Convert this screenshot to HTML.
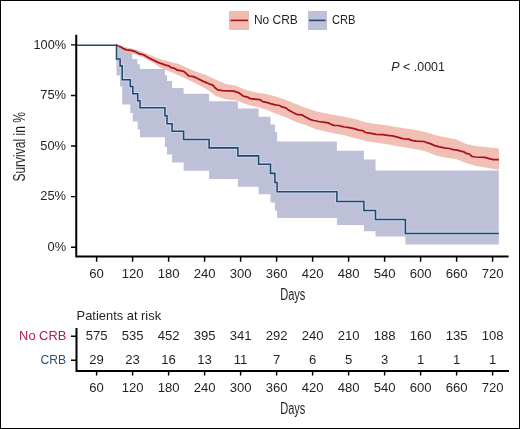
<!DOCTYPE html>
<html><head><meta charset="utf-8"><title>KM</title>
<style>
html,body{margin:0;padding:0;background:#fff;}
body{width:520px;height:429px;overflow:hidden;font-family:"Liberation Sans", sans-serif;}
svg{display:block;will-change:transform;}
</style></head><body>
<svg width="520" height="429" viewBox="0 0 520 429"><rect x="0" y="0" width="520" height="429" fill="#fff"/><polygon points="116.50,44.85 116.50,44.85 116.50,46.00 120.10,46.00 120.10,46.50 122.20,46.50 122.20,50.00 130.30,50.00 130.30,53.50 132.30,53.50 132.30,59.10 137.30,59.10 137.30,64.20 139.90,64.20 139.90,69.00 164.90,69.00 164.90,75.20 167.00,75.20 167.00,81.00 172.10,81.00 172.10,88.00 183.60,88.00 183.60,93.80 209.10,93.80 209.10,101.30 237.90,101.30 237.90,108.50 258.60,108.50 258.60,116.70 270.50,116.70 270.50,124.40 274.90,124.40 274.90,132.10 277.10,132.10 277.10,141.50 336.90,141.50 336.90,150.80 363.90,150.80 363.90,159.60 375.50,159.60 375.50,170.60 405.40,170.60 405.40,170.60 498.80,170.60 498.80,244.40 405.40,244.40 405.40,236.40 375.50,236.40 375.50,231.20 363.90,231.20 363.90,224.90 336.90,224.90 336.90,218.00 277.10,218.00 277.10,210.40 274.90,210.40 274.90,202.60 270.50,202.60 270.50,194.30 258.60,194.30 258.60,186.70 237.90,186.70 237.90,178.90 209.10,178.90 209.10,170.70 183.60,170.70 183.60,162.50 172.10,162.50 172.10,154.50 167.00,154.50 167.00,147.00 164.90,147.00 164.90,137.30 140.00,137.30 140.00,129.60 137.70,129.60 137.70,121.40 132.80,121.40 132.80,112.90 130.30,112.90 130.30,104.50 122.20,104.50 122.20,86.40 120.10,86.40 120.10,75.50 116.50,75.50 116.50,44.85 116.50,44.85" fill="#bec0d8"/><polygon points="116.00,44.60 126.00,47.20 136.00,49.50 146.00,53.20 156.00,57.60 160.00,58.90 178.60,64.00 196.00,71.70 206.00,75.00 216.00,79.70 226.00,83.90 236.00,85.80 246.00,90.10 256.00,92.50 266.00,94.00 276.00,96.50 286.00,99.90 296.00,104.10 306.00,107.90 316.00,111.30 326.00,113.40 336.00,115.30 346.00,117.10 356.00,119.30 366.00,122.50 376.00,123.90 386.00,125.30 396.00,126.90 406.00,128.50 416.00,129.90 426.00,132.30 436.00,135.30 446.00,137.50 456.00,139.30 466.00,144.00 476.00,145.90 498.90,148.60 498.90,169.70 476.00,166.10 466.00,162.90 456.00,159.10 446.00,157.70 436.00,155.40 426.00,151.60 416.00,149.30 406.00,147.40 396.00,146.00 386.00,144.10 376.00,142.70 366.00,140.90 356.00,138.40 346.00,135.70 336.00,133.80 326.00,131.40 316.00,129.20 306.00,125.20 296.00,121.90 286.00,117.30 276.00,113.80 266.00,109.50 256.00,106.70 246.00,104.30 236.00,100.20 226.00,99.30 216.00,96.10 206.00,88.70 196.00,83.40 178.60,75.20 160.00,67.50 156.00,64.50 146.00,58.80 136.00,54.60 126.00,52.30 116.00,45.20" fill="#f0bcb0" fill-opacity="0.95"/><polyline points="116.00,44.80 118.00,46.10 120.90,46.90 123.20,48.70 126.70,49.80 131.30,50.40 135.30,51.60 138.20,53.30 141.10,54.20 144.00,55.00 148.50,57.70 153.30,60.10 160.00,63.20 162.90,64.10 165.80,65.10 168.70,65.80 170.60,67.30 174.40,68.30 177.30,70.20 183.10,71.20 185.00,72.30 188.80,76.00 193.70,76.60 198.50,79.00 203.30,81.40 209.00,83.80 212.90,85.10 214.80,87.50 217.70,89.90 222.50,90.60 234.00,91.20 238.80,92.80 240.80,94.20 243.20,96.20 247.50,97.10 250.40,98.60 259.90,99.70 262.80,101.60 267.60,102.60 270.50,103.70 275.30,104.80 279.60,105.50 282.00,106.90 285.90,107.90 288.80,110.30 292.60,112.20 296.50,114.30 302.20,114.90 305.10,116.80 309.80,119.30 313.70,120.50 318.50,121.50 323.30,122.20 328.10,122.90 331.00,124.30 333.90,125.30 338.70,125.50 340.60,126.10 344.50,127.00 349.30,127.70 354.00,128.70 358.80,130.10 362.70,130.60 365.50,132.50 371.30,133.30 376.10,134.40 382.80,134.60 387.70,135.40 392.50,135.90 396.30,136.80 400.20,137.80 404.00,139.00 408.70,139.10 411.60,140.40 416.40,141.10 424.10,141.50 427.00,142.70 430.80,143.90 434.70,145.60 439.50,146.80 444.30,147.80 449.10,148.50 453.20,149.60 457.40,150.20 460.60,151.20 463.80,151.80 465.90,153.30 469.00,153.90 472.20,156.50 475.40,157.00 484.90,157.30 489.20,158.60 493.40,159.70 498.90,159.70" fill="none" stroke="#a8101f" stroke-width="1.75" stroke-linejoin="round"/><defs><clipPath id="bb"><polygon points="116.50,44.85 116.50,44.85 116.50,46.00 120.10,46.00 120.10,46.50 122.20,46.50 122.20,50.00 130.30,50.00 130.30,53.50 132.30,53.50 132.30,59.10 137.30,59.10 137.30,64.20 139.90,64.20 139.90,69.00 164.90,69.00 164.90,75.20 167.00,75.20 167.00,81.00 172.10,81.00 172.10,88.00 183.60,88.00 183.60,93.80 209.10,93.80 209.10,101.30 237.90,101.30 237.90,108.50 258.60,108.50 258.60,116.70 270.50,116.70 270.50,124.40 274.90,124.40 274.90,132.10 277.10,132.10 277.10,141.50 336.90,141.50 336.90,150.80 363.90,150.80 363.90,159.60 375.50,159.60 375.50,170.60 405.40,170.60 405.40,170.60 498.80,170.60 498.80,244.40 405.40,244.40 405.40,236.40 375.50,236.40 375.50,231.20 363.90,231.20 363.90,224.90 336.90,224.90 336.90,218.00 277.10,218.00 277.10,210.40 274.90,210.40 274.90,202.60 270.50,202.60 270.50,194.30 258.60,194.30 258.60,186.70 237.90,186.70 237.90,178.90 209.10,178.90 209.10,170.70 183.60,170.70 183.60,162.50 172.10,162.50 172.10,154.50 167.00,154.50 167.00,147.00 164.90,147.00 164.90,137.30 140.00,137.30 140.00,129.60 137.70,129.60 137.70,121.40 132.80,121.40 132.80,112.90 130.30,112.90 130.30,104.50 122.20,104.50 122.20,86.40 120.10,86.40 120.10,75.50 116.50,75.50 116.50,44.85 116.50,44.85"/></clipPath></defs><g transform="translate(0,0.35)"><polyline points="77.00,44.85 116.50,44.85 116.50,58.60 120.10,58.60 120.10,65.50 122.20,65.50 122.20,79.30 130.30,79.30 130.30,86.20 132.80,86.20 132.80,93.40 137.70,93.40 137.70,100.40 140.00,100.40 140.00,107.30 164.90,107.30 164.90,115.40 167.00,115.40 167.00,123.30 172.10,123.30 172.10,130.90 183.60,130.90 183.60,139.10 209.10,139.10 209.10,147.50 237.90,147.50 237.90,155.50 258.60,155.50 258.60,163.80 270.50,163.80 270.50,173.00 274.90,173.00 274.90,182.20 277.10,182.20 277.10,191.40 336.90,191.40 336.90,201.10 363.90,201.10 363.90,210.10 375.50,210.10 375.50,219.20 405.40,219.20 405.40,233.20 498.80,233.20" fill="none" stroke="#c6d5ec" stroke-width="3.6" stroke-linejoin="miter" clip-path="url(#bb)"/><polyline points="77.00,44.85 116.50,44.85 116.50,58.60 120.10,58.60 120.10,65.50 122.20,65.50 122.20,79.30 130.30,79.30 130.30,86.20 132.80,86.20 132.80,93.40 137.70,93.40 137.70,100.40 140.00,100.40 140.00,107.30 164.90,107.30 164.90,115.40 167.00,115.40 167.00,123.30 172.10,123.30 172.10,130.90 183.60,130.90 183.60,139.10 209.10,139.10 209.10,147.50 237.90,147.50 237.90,155.50 258.60,155.50 258.60,163.80 270.50,163.80 270.50,173.00 274.90,173.00 274.90,182.20 277.10,182.20 277.10,191.40 336.90,191.40 336.90,201.10 363.90,201.10 363.90,210.10 375.50,210.10 375.50,219.20 405.40,219.20 405.40,233.20 498.80,233.20" fill="none" stroke="#26476c" stroke-width="1.55" stroke-linejoin="miter"/></g><path d="M76.25,34.8 V257.4 M75.25,256.4 H508.6" stroke="#000" stroke-width="2" fill="none"/><path d="M71,44.85 H76.5 M71,95.44 H76.5 M71,146.02 H76.5 M71,196.61 H76.5 M71,247.20 H76.5 M96.60,256.5 V261.8 M132.60,256.5 V261.8 M168.60,256.5 V261.8 M204.60,256.5 V261.8 M240.60,256.5 V261.8 M276.60,256.5 V261.8 M312.60,256.5 V261.8 M348.60,256.5 V261.8 M384.60,256.5 V261.8 M420.60,256.5 V261.8 M456.60,256.5 V261.8 M492.60,256.5 V261.8" stroke="#000" stroke-width="1.45" fill="none"/><text x="66.1" y="48.65" font-family="Liberation Sans, sans-serif" font-size="13.2" fill="#231f20" text-anchor="end" textLength="32.6" lengthAdjust="spacingAndGlyphs">100%</text><text x="66.1" y="99.24" font-family="Liberation Sans, sans-serif" font-size="13.2" fill="#231f20" text-anchor="end" textLength="25.9" lengthAdjust="spacingAndGlyphs">75%</text><text x="66.1" y="149.82" font-family="Liberation Sans, sans-serif" font-size="13.2" fill="#231f20" text-anchor="end" textLength="25.9" lengthAdjust="spacingAndGlyphs">50%</text><text x="66.1" y="200.41" font-family="Liberation Sans, sans-serif" font-size="13.2" fill="#231f20" text-anchor="end" textLength="25.9" lengthAdjust="spacingAndGlyphs">25%</text><text x="66.1" y="251.00" font-family="Liberation Sans, sans-serif" font-size="13.2" fill="#231f20" text-anchor="end" textLength="18.6" lengthAdjust="spacingAndGlyphs">0%</text><text x="96.60" y="278.4" font-family="Liberation Sans, sans-serif" font-size="13.1" fill="#231f20" text-anchor="middle">60</text><text x="132.60" y="278.4" font-family="Liberation Sans, sans-serif" font-size="13.1" fill="#231f20" text-anchor="middle">120</text><text x="168.60" y="278.4" font-family="Liberation Sans, sans-serif" font-size="13.1" fill="#231f20" text-anchor="middle">180</text><text x="204.60" y="278.4" font-family="Liberation Sans, sans-serif" font-size="13.1" fill="#231f20" text-anchor="middle">240</text><text x="240.60" y="278.4" font-family="Liberation Sans, sans-serif" font-size="13.1" fill="#231f20" text-anchor="middle">300</text><text x="276.60" y="278.4" font-family="Liberation Sans, sans-serif" font-size="13.1" fill="#231f20" text-anchor="middle">360</text><text x="312.60" y="278.4" font-family="Liberation Sans, sans-serif" font-size="13.1" fill="#231f20" text-anchor="middle">420</text><text x="348.60" y="278.4" font-family="Liberation Sans, sans-serif" font-size="13.1" fill="#231f20" text-anchor="middle">480</text><text x="384.60" y="278.4" font-family="Liberation Sans, sans-serif" font-size="13.1" fill="#231f20" text-anchor="middle">540</text><text x="420.60" y="278.4" font-family="Liberation Sans, sans-serif" font-size="13.1" fill="#231f20" text-anchor="middle">600</text><text x="456.60" y="278.4" font-family="Liberation Sans, sans-serif" font-size="13.1" fill="#231f20" text-anchor="middle">660</text><text x="492.60" y="278.4" font-family="Liberation Sans, sans-serif" font-size="13.1" fill="#231f20" text-anchor="middle">720</text><text x="280.2" y="299.6" font-family="Liberation Sans, sans-serif" font-size="15.6" fill="#231f20" textLength="25.2" lengthAdjust="spacingAndGlyphs">Days</text><text transform="translate(25.1,181.6) rotate(-90)" x="0" y="0" font-family="Liberation Sans, sans-serif" font-size="16.4" fill="#231f20" textLength="69.5" lengthAdjust="spacingAndGlyphs">Survival in %</text><text x="391.3" y="71" font-family="Liberation Sans, sans-serif" font-size="12.9" fill="#231f20" textLength="53.6" lengthAdjust="spacingAndGlyphs"><tspan font-style="italic">P</tspan> &lt; .0001</text><rect x="229" y="11" width="20" height="19" fill="#f0bcb0"/><path d="M230.5,20.4 H248" stroke="#a8101f" stroke-width="1.6"/><text x="254.0" y="24.2" font-family="Liberation Sans, sans-serif" font-size="13.1" fill="#231f20" textLength="43.8" lengthAdjust="spacingAndGlyphs">No CRB</text><rect x="308" y="11" width="19" height="19" fill="#bec0d8"/><path d="M309,20.4 H325.5" stroke="#26476c" stroke-width="1.6"/><text x="331.9" y="23.9" font-family="Liberation Sans, sans-serif" font-size="13.1" fill="#231f20" textLength="23.6" lengthAdjust="spacingAndGlyphs">CRB</text><text x="76.6" y="319.9" font-family="Liberation Sans, sans-serif" font-size="13.1" fill="#231f20" textLength="84.5" lengthAdjust="spacingAndGlyphs">Patients at risk</text><text x="19.1" y="340.3" font-family="Liberation Sans, sans-serif" font-size="13.1" fill="#b61c44" textLength="47.2" lengthAdjust="spacingAndGlyphs">No CRB</text><text x="40.6" y="364.3" font-family="Liberation Sans, sans-serif" font-size="13.1" fill="#2d5074" textLength="25.6" lengthAdjust="spacingAndGlyphs">CRB</text><path d="M76.5,328 V372 M75.5,371 H509" stroke="#000" stroke-width="2" fill="none"/><path d="M71,336.3 H76.5 M71,360.2 H76.5 M96.60,371 V375.6 M132.60,371 V375.6 M168.60,371 V375.6 M204.60,371 V375.6 M240.60,371 V375.6 M276.60,371 V375.6 M312.60,371 V375.6 M348.60,371 V375.6 M384.60,371 V375.6 M420.60,371 V375.6 M456.60,371 V375.6 M492.60,371 V375.6" stroke="#000" stroke-width="1.45" fill="none"/><text x="96.60" y="340.1" font-family="Liberation Sans, sans-serif" font-size="13.1" fill="#231f20" text-anchor="middle">575</text><text x="132.60" y="340.1" font-family="Liberation Sans, sans-serif" font-size="13.1" fill="#231f20" text-anchor="middle">535</text><text x="168.60" y="340.1" font-family="Liberation Sans, sans-serif" font-size="13.1" fill="#231f20" text-anchor="middle">452</text><text x="204.60" y="340.1" font-family="Liberation Sans, sans-serif" font-size="13.1" fill="#231f20" text-anchor="middle">395</text><text x="240.60" y="340.1" font-family="Liberation Sans, sans-serif" font-size="13.1" fill="#231f20" text-anchor="middle">341</text><text x="276.60" y="340.1" font-family="Liberation Sans, sans-serif" font-size="13.1" fill="#231f20" text-anchor="middle">292</text><text x="312.60" y="340.1" font-family="Liberation Sans, sans-serif" font-size="13.1" fill="#231f20" text-anchor="middle">240</text><text x="348.60" y="340.1" font-family="Liberation Sans, sans-serif" font-size="13.1" fill="#231f20" text-anchor="middle">210</text><text x="384.60" y="340.1" font-family="Liberation Sans, sans-serif" font-size="13.1" fill="#231f20" text-anchor="middle">188</text><text x="420.60" y="340.1" font-family="Liberation Sans, sans-serif" font-size="13.1" fill="#231f20" text-anchor="middle">160</text><text x="456.60" y="340.1" font-family="Liberation Sans, sans-serif" font-size="13.1" fill="#231f20" text-anchor="middle">135</text><text x="492.60" y="340.1" font-family="Liberation Sans, sans-serif" font-size="13.1" fill="#231f20" text-anchor="middle">108</text><text x="96.60" y="363.9" font-family="Liberation Sans, sans-serif" font-size="13.1" fill="#231f20" text-anchor="middle">29</text><text x="132.60" y="363.9" font-family="Liberation Sans, sans-serif" font-size="13.1" fill="#231f20" text-anchor="middle">23</text><text x="168.60" y="363.9" font-family="Liberation Sans, sans-serif" font-size="13.1" fill="#231f20" text-anchor="middle">16</text><text x="204.60" y="363.9" font-family="Liberation Sans, sans-serif" font-size="13.1" fill="#231f20" text-anchor="middle">13</text><text x="240.60" y="363.9" font-family="Liberation Sans, sans-serif" font-size="13.1" fill="#231f20" text-anchor="middle">11</text><text x="276.60" y="363.9" font-family="Liberation Sans, sans-serif" font-size="13.1" fill="#231f20" text-anchor="middle">7</text><text x="312.60" y="363.9" font-family="Liberation Sans, sans-serif" font-size="13.1" fill="#231f20" text-anchor="middle">6</text><text x="348.60" y="363.9" font-family="Liberation Sans, sans-serif" font-size="13.1" fill="#231f20" text-anchor="middle">5</text><text x="384.60" y="363.9" font-family="Liberation Sans, sans-serif" font-size="13.1" fill="#231f20" text-anchor="middle">3</text><text x="420.60" y="363.9" font-family="Liberation Sans, sans-serif" font-size="13.1" fill="#231f20" text-anchor="middle">1</text><text x="456.60" y="363.9" font-family="Liberation Sans, sans-serif" font-size="13.1" fill="#231f20" text-anchor="middle">1</text><text x="492.60" y="363.9" font-family="Liberation Sans, sans-serif" font-size="13.1" fill="#231f20" text-anchor="middle">1</text><text x="96.60" y="392.2" font-family="Liberation Sans, sans-serif" font-size="13.1" fill="#231f20" text-anchor="middle">60</text><text x="132.60" y="392.2" font-family="Liberation Sans, sans-serif" font-size="13.1" fill="#231f20" text-anchor="middle">120</text><text x="168.60" y="392.2" font-family="Liberation Sans, sans-serif" font-size="13.1" fill="#231f20" text-anchor="middle">180</text><text x="204.60" y="392.2" font-family="Liberation Sans, sans-serif" font-size="13.1" fill="#231f20" text-anchor="middle">240</text><text x="240.60" y="392.2" font-family="Liberation Sans, sans-serif" font-size="13.1" fill="#231f20" text-anchor="middle">300</text><text x="276.60" y="392.2" font-family="Liberation Sans, sans-serif" font-size="13.1" fill="#231f20" text-anchor="middle">360</text><text x="312.60" y="392.2" font-family="Liberation Sans, sans-serif" font-size="13.1" fill="#231f20" text-anchor="middle">420</text><text x="348.60" y="392.2" font-family="Liberation Sans, sans-serif" font-size="13.1" fill="#231f20" text-anchor="middle">480</text><text x="384.60" y="392.2" font-family="Liberation Sans, sans-serif" font-size="13.1" fill="#231f20" text-anchor="middle">540</text><text x="420.60" y="392.2" font-family="Liberation Sans, sans-serif" font-size="13.1" fill="#231f20" text-anchor="middle">600</text><text x="456.60" y="392.2" font-family="Liberation Sans, sans-serif" font-size="13.1" fill="#231f20" text-anchor="middle">660</text><text x="492.60" y="392.2" font-family="Liberation Sans, sans-serif" font-size="13.1" fill="#231f20" text-anchor="middle">720</text><text x="280.2" y="413.8" font-family="Liberation Sans, sans-serif" font-size="15.6" fill="#231f20" textLength="25.2" lengthAdjust="spacingAndGlyphs">Days</text><rect x="0.5" y="0.5" width="519" height="428" fill="none" stroke="#000" stroke-width="1"/></svg>
</body></html>
